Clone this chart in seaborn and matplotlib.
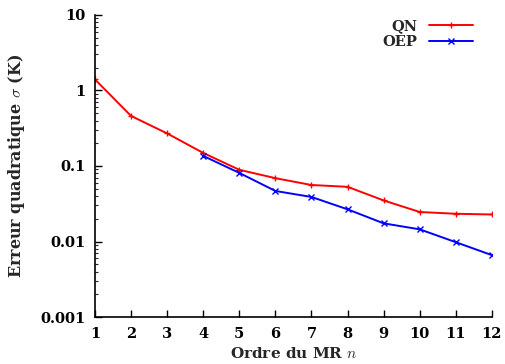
import matplotlib
matplotlib.use("Agg")
import matplotlib.pyplot as plt
import matplotlib.ticker as mticker
import seaborn as sns
import pandas as pd

order_qn = [1, 2, 3, 4, 5, 6, 7, 8, 9, 10, 11, 12]
err_qn = [1.40, 0.46, 0.27, 0.149, 0.089, 0.069, 0.056, 0.053, 0.035, 0.0246, 0.0233, 0.0228]
order_oep = [4, 5, 6, 7, 8, 9, 10, 11, 12]
err_oep = [0.136, 0.081, 0.0467, 0.0389, 0.0267, 0.0174, 0.0145, 0.0098, 0.0066]
y_ticks = [0.001, 0.01, 0.1, 1, 10]
y_tick_labels = ["0.001", "0.01", "0.1", "1", "10"]

sns.set_style("ticks")
plt.rcParams["font.family"] = ["DejaVu Serif"]
plt.rcParams["font.weight"] = "bold"
plt.rcParams["mathtext.fontset"] = "cm"

fig = plt.figure(figsize=(5.05, 3.64), dpi=100)
ax = fig.add_axes([0.188, 0.129, 0.786, 0.830])

df_qn = pd.DataFrame({"n": order_qn, "err": err_qn})
df_oep = pd.DataFrame({"n": order_oep, "err": err_oep})

sns.lineplot(data=df_qn, x="n", y="err", ax=ax, color="#ff0000", linewidth=1.4,
             linestyle="-", marker="+", markersize=5, markeredgewidth=1.0,
             markeredgecolor="#ff0000", label="QN")
sns.lineplot(data=df_oep, x="n", y="err", ax=ax, color="#0000ff", linewidth=1.4,
             linestyle="-", marker="x", markersize=3.8, markeredgewidth=1.0,
             markeredgecolor="#0000ff", label="OEP")

ax.set_yscale("log")
ax.set_ylim(0.001, 10)
ax.set_xlim(1, 12)
ax.set_xticks(order_qn)
ax.set_xticklabels([str(v) for v in order_qn])
ax.set_yticks(y_ticks)
ax.set_yticklabels(y_tick_labels)
ax.yaxis.set_minor_locator(mticker.LogLocator(base=10, subs=range(2, 10)))
ax.yaxis.set_minor_formatter(mticker.NullFormatter())

for s in ["top", "right"]:
    ax.spines[s].set_visible(False)
for s in ["left", "bottom"]:
    ax.spines[s].set_linewidth(1.2)
    ax.spines[s].set_color("black")

ax.tick_params(axis="both", which="major", direction="in", length=5, width=1,
               labelsize=10.5, colors="black", pad=7)
ax.tick_params(axis="y", which="minor", direction="in", length=2.5, width=0.8)
for lab in ax.get_xticklabels() + ax.get_yticklabels():
    lab.set_fontweight("bold")

ax.set_xlabel(r"Ordre du MR $n$", fontsize=11, fontweight="bold", labelpad=4)
ax.set_ylabel(r"Erreur quadratique $\sigma$ (K)", fontsize=11.5, fontweight="bold", labelpad=9)

leg = ax.legend(loc="upper right", bbox_to_anchor=(0.978, 1.02), frameon=False,
                markerfirst=False, fontsize=10.5, handlelength=3.0,
                handletextpad=0.8, labelspacing=0.15, borderaxespad=0.3)
for t in leg.get_texts():
    t.set_fontweight("bold")

fig.savefig("out.png", dpi=100)
